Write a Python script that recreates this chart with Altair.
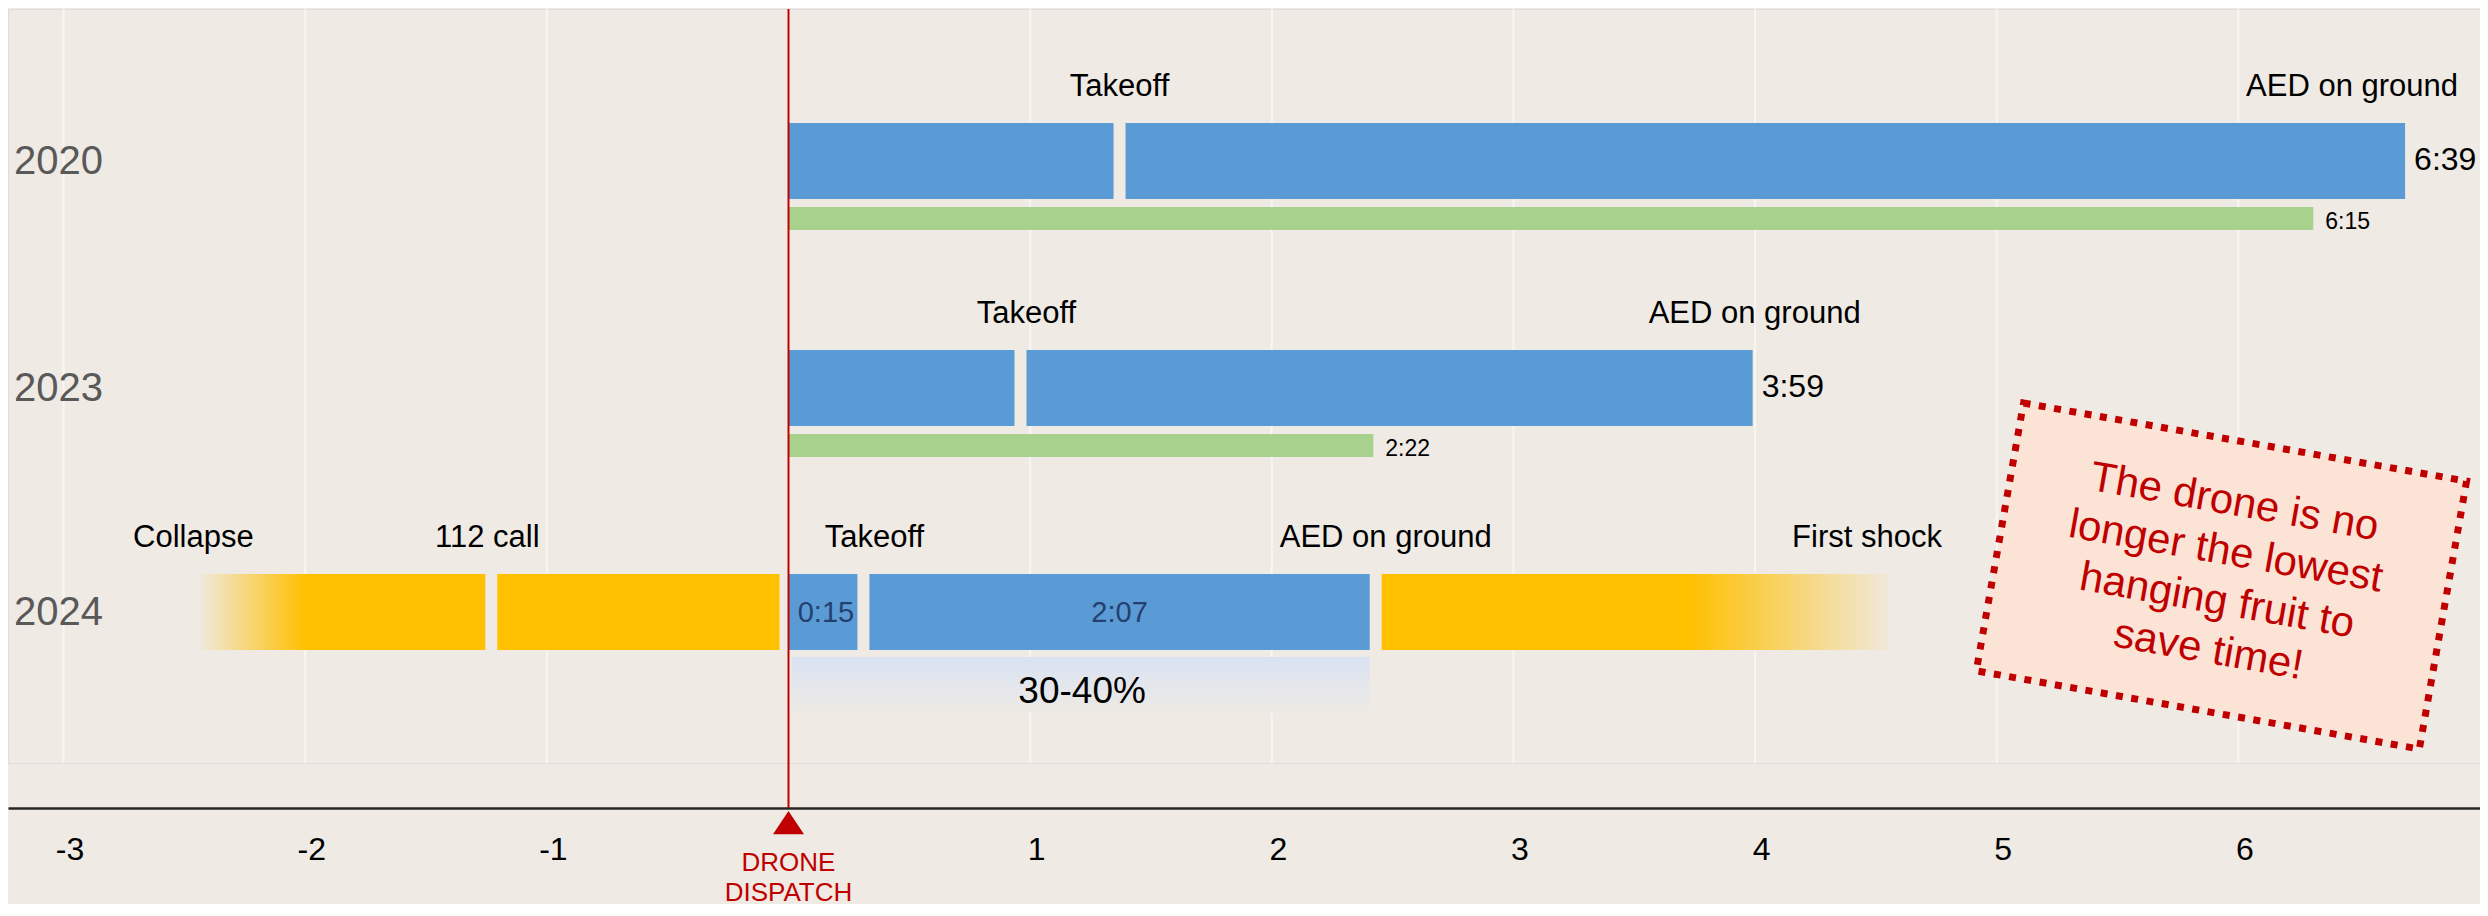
import altair as alt
import pandas as pd

# ---------------- data (minutes, relative to drone dispatch) ----------------
years = ["2020", "2023", "2024"]
takeoff = [1.37, 0.96, 0.31]
aed_on_ground = [6.69, 3.99, 2.43]
total_labels = ["6:39", "3:59", ""]

ground_years = ["2020", "2023"]
ground_time = [6.31, 2.42]
ground_labels = ["6:15", "2:22"]

collapse_2024 = -2.43
call_112_2024 = -1.23
first_shock_2024 = 4.55
segment_labels_2024 = ["0:15", "2:07"]
share_label_2024 = "30-40%"

event_years = ["2020", "2020", "2023", "2023", "2024", "2024", "2024", "2024", "2024"]
event_names = ["Takeoff", "AED on ground", "Takeoff", "AED on ground",
               "Collapse", "112 call", "Takeoff", "AED on ground", "First shock"]

dispatch_label = "DRONE\nDISPATCH"
callout_text = "The drone is no\nlonger the lowest\nhanging fruit to\nsave time!"
tick_values = [-3, -2, -1, 0, 1, 2, 3, 4, 5, 6]

# ---------------- layout / style ----------------
BG = "#EFEAE4"
BLUE = "#5B9BD5"
GREEN = "#A9D18E"
ORANGE = "#FFC000"
RED = "#C00000"
FONT = "Liberation Sans"

W, H = 2472, 754
X_DOMAIN = [-3.23, 7]
PX_PER_MIN = W / (X_DOMAIN[1] - X_DOMAIN[0])
ROW_Y = {"2020": 152, "2023": 379, "2024": 603}   # vertical layout (px from top)
BAR_HALF = 38
EVENT_DX = [0, -53, 6, 2, -8, -4, 11, 10, -21]     # label nudges (px)
AXIS_Y = 799
CALLOUT_LH = 50

XS = alt.Scale(domain=X_DOMAIN, nice=False, zero=False)
YS = alt.Scale(domain=[0, H], reverse=True, nice=False, zero=False)
XAXIS = alt.Axis(values=tick_values, labelExpr="datum.value == 0 ? '' : '' + datum.value",
                 offset=45, grid=False, ticks=False,
                 domainColor="#262626", domainWidth=2.5, labelFontSize=32,
                 labelColor="#000000", labelFont=FONT, labelPadding=26, labelOffset=6,
                 title=None)


def X(f):
    return alt.X(f, type="quantitative", scale=XS, axis=XAXIS)


def Y(f):
    return alt.Y(f, type="quantitative", scale=YS, axis=None)


def Q(f):
    return alt.X2(f)


# ---------------- tables ----------------
grid = pd.DataFrame({"v": tick_values})
grid["y0"] = 0
grid["y1"] = H

rows = pd.DataFrame({"year": years, "takeoff": takeoff, "aed": aed_on_ground,
                     "total": total_labels})
rows["yc"] = rows["year"].map(ROW_Y)
rows["start"] = 0.0
rows["y0"] = rows["yc"] - BAR_HALF
rows["y1"] = rows["yc"] + BAR_HALF
rows["ylab"] = rows["yc"] + 1
rows["ytot"] = rows["yc"] - 1

ground = pd.DataFrame({"year": ground_years, "t": ground_time, "label": ground_labels})
ground["yc"] = ground["year"].map(ROW_Y) + 57.5
ground["start"] = 0.0
ground["y0"] = ground["yc"] - 11.5
ground["y1"] = ground["yc"] + 11.5
ground["ylab"] = ground["yc"] + 3

r24 = rows[rows["year"] == "2024"].iloc[0]
y24 = ROW_Y["2024"]

orange_a = pd.DataFrame({"s": [collapse_2024], "e": [call_112_2024],
                         "y0": [y24 - BAR_HALF], "y1": [y24 + BAR_HALF]})
orange_b = pd.DataFrame({"s": [call_112_2024], "e": [0.0],
                         "y0": [y24 - BAR_HALF], "y1": [y24 + BAR_HALF]})
orange_c = pd.DataFrame({"s": [r24["aed"]], "e": [first_shock_2024],
                         "y0": [y24 - BAR_HALF], "y1": [y24 + BAR_HALF]})

gaps = pd.DataFrame({
    "t": list(rows["takeoff"]) + [call_112_2024, r24["aed"]],
    "year": list(rows["year"]) + ["2024", "2024"],
})
gaps["y0"] = gaps["year"].map(ROW_Y) - BAR_HALF - 2
gaps["y1"] = gaps["year"].map(ROW_Y) + BAR_HALF + 2

seg24 = pd.DataFrame({
    "x": [r24["takeoff"] / 2, (r24["takeoff"] + r24["aed"]) / 2],
    "label": segment_labels_2024,
    "y": [y24 + 1, y24 + 1],
})

share = pd.DataFrame({"s": [0.0], "e": [r24["aed"]], "y0": [y24 + 45], "y1": [y24 + 101],
                      "xm": [r24["aed"] / 2], "ym": [y24 + 80], "label": [share_label_2024]})

event_time_lookup = {
    ("2020", "Takeoff"): takeoff[0],
    ("2020", "AED on ground"): aed_on_ground[0],
    ("2023", "Takeoff"): takeoff[1],
    ("2023", "AED on ground"): aed_on_ground[1],
    ("2024", "Collapse"): collapse_2024,
    ("2024", "112 call"): call_112_2024,
    ("2024", "Takeoff"): takeoff[2],
    ("2024", "AED on ground"): aed_on_ground[2],
    ("2024", "First shock"): first_shock_2024,
}
events = pd.DataFrame({"year": event_years, "name": event_names})
events["t"] = [event_time_lookup[(y, n)] for y, n in zip(event_years, event_names)]
events["tx"] = events["t"] + pd.Series(EVENT_DX) / PX_PER_MIN
events["y"] = events["year"].map(ROW_Y) - 74.5

dispatch = pd.DataFrame({"x": [0.0], "y0": [0], "y1": [AXIS_Y], "ytri": [AXIS_Y + 14.5],
                         "ytxt": [AXIS_Y + 55], "label": [dispatch_label]})

callout = pd.DataFrame({"x": [5.93], "y": [567], "label": [callout_text]})

# ---------------- gradients ----------------
grad_left = {"gradient": "linear", "x1": 0, "y1": 0, "x2": 1, "y2": 0,
             "stops": [{"offset": 0, "color": "#F0E8DA"},
                       {"offset": 0.36, "color": ORANGE},
                       {"offset": 1, "color": ORANGE}]}
grad_right = {"gradient": "linear", "x1": 0, "y1": 0, "x2": 1, "y2": 0,
              "stops": [{"offset": 0, "color": ORANGE},
                        {"offset": 0.61, "color": ORANGE},
                        {"offset": 1, "color": "#F0E8DA"}]}
grad_share = {"gradient": "linear", "x1": 0, "y1": 0, "x2": 0, "y2": 1,
              "stops": [{"offset": 0, "color": "#D9E2F3"},
                        {"offset": 1, "color": "#EEEAE4"}]}

# ---------------- layers ----------------
grid_rules = alt.Chart(grid).mark_rule(color="#F8F6F3", strokeWidth=2).encode(
    x=X("v"), y=Y("y0"), y2=alt.Y2("y1"))

blue = alt.Chart(rows).mark_rect(color=BLUE).encode(
    x=X("start"), x2=Q("aed"), y=Y("y0"), y2=alt.Y2("y1"))

green = alt.Chart(ground).mark_rect(color=GREEN).encode(
    x=X("start"), x2=Q("t"), y=Y("y0"), y2=alt.Y2("y1"))

oa = alt.Chart(orange_a).mark_rect(color=grad_left).encode(
    x=X("s"), x2=Q("e"), y=Y("y0"), y2=alt.Y2("y1"))
ob = alt.Chart(orange_b).mark_rect(color=ORANGE, x2Offset=-9).encode(
    x=X("s"), x2=Q("e"), y=Y("y0"), y2=alt.Y2("y1"))
oc = alt.Chart(orange_c).mark_rect(color=grad_right).encode(
    x=X("s"), x2=Q("e"), y=Y("y0"), y2=alt.Y2("y1"))

gap_rules = alt.Chart(gaps).mark_rule(color=BG, strokeWidth=12).encode(
    x=X("t"), y=Y("y0"), y2=alt.Y2("y1"))

share_box = alt.Chart(share).mark_rect(color=grad_share, xOffset=3, x2Offset=-6).encode(
    x=X("s"), x2=Q("e"), y=Y("y0"), y2=alt.Y2("y1"))
share_txt = alt.Chart(share).mark_text(fontSize=37, font=FONT, color="#000000",
                                       baseline="middle").encode(
    x=X("xm"), y=Y("ym"), text="label:N")

red_line = alt.Chart(dispatch).mark_rule(color=RED, strokeWidth=2).encode(
    x=X("x"), y=Y("y0"), y2=alt.Y2("y1"))
tri = alt.Chart(dispatch).mark_point(shape="M0,-0.75L1,0.75L-1,0.75Z", size=961,
                                     filled=True, color=RED, opacity=1).encode(
    x=X("x"), y=Y("ytri"))
disp_txt = alt.Chart(dispatch).mark_text(fontSize=26, font=FONT, color=RED,
                                         lineBreak="\n", lineHeight=30,
                                         baseline="middle").encode(
    x=X("x"), y=Y("ytxt"), text="label:N")

year_txt = alt.Chart(rows).mark_text(fontSize=40, font=FONT, color="#595959",
                                     align="left", baseline="middle").encode(
    x=alt.value(6), y=Y("ylab"), text="year:N")

event_txt = alt.Chart(events).mark_text(fontSize=31, font=FONT, color="#000000",
                                        baseline="middle").encode(
    x=X("tx"), y=Y("y"), text="name:N")

total_txt = alt.Chart(rows[rows["total"] != ""]).mark_text(
    fontSize=32, font=FONT, color="#000000", align="left", baseline="middle", dx=9).encode(
    x=X("aed"), y=Y("ytot"), text="total:N")

ground_txt = alt.Chart(ground).mark_text(
    fontSize=23, font=FONT, color="#000000", align="left", baseline="middle", dx=12).encode(
    x=X("t"), y=Y("ylab"), text="label:N")

seg_txt = alt.Chart(seg24).mark_text(fontSize=29, font=FONT, color="#24406E",
                                     baseline="middle").encode(
    x=X("x"), y=Y("y"), text="label:N")

box = alt.Chart(callout).mark_point(
    shape="M-1.654,-1L1.654,-1L1.654,1L-1.654,1Z", size=272 * 272, angle=10,
    filled=True, fill="#FBE4D6", stroke=RED, strokeWidth=7, strokeDash=[7, 8.5],
    fillOpacity=1, strokeOpacity=1, opacity=1).encode(
    x=X("x"), y=Y("y"))
callout_txt = alt.Chart(callout).mark_text(
    fontSize=42, font=FONT, color=RED, angle=10, lineBreak="\n", lineHeight=CALLOUT_LH,
    baseline="middle", align="center", dy=-1.5 * CALLOUT_LH).encode(
    x=X("x"), y=Y("y"), text="label:N")

chart = alt.layer(
    grid_rules, blue, green, oa, ob, oc, gap_rules, share_box, share_txt,
    red_line, tri, disp_txt, year_txt, event_txt, total_txt, ground_txt, seg_txt,
    box, callout_txt,
).properties(
    width=W, height=H, background=BG,
    autosize=alt.AutoSizeParams(type="none"),
    padding={"left": 0, "top": 1, "right": 0, "bottom": 141},
).configure_view(stroke="transparent", strokeWidth=0).configure(font=FONT)

chart.save("out.html", embed_options={"renderer": "svg", "actions": False})
